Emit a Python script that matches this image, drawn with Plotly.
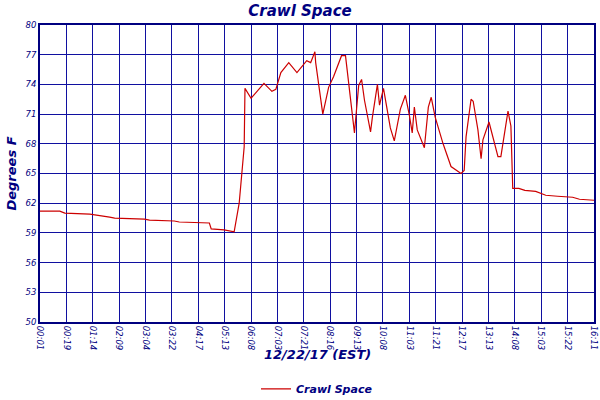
import plotly.graph_objects as go

tick_labels = ["00:01","00:19","01:14","02:09","03:04","03:22","04:17","05:13","06:08","07:03","07:21",
               "08:16","09:13","10:08","11:03","11:21","12:17","13:13","14:08","15:03","15:22","16:11"]
x_pos = [0,0.75,0.94,1.89,2.64,2.83,3.96,4.15,5.09,5.28,6.42,6.49,6.98,7.36,7.55,7.66,7.74,7.77,8.0,8.49,
         8.79,8.94,9.13,9.43,9.74,10.11,10.26,10.42,10.45,10.72,10.94,11.13,11.43,11.58,11.77,11.92,12.08,
         12.19,12.30,12.53,12.60,12.79,12.87,13.02,13.28,13.43,13.66,13.85,14.0,14.11,14.19,14.30,14.57,
         14.72,14.83,14.98,15.28,15.58,15.96,16.08,16.15,16.34,16.42,16.60,16.72,16.79,17.02,17.21,17.36,
         17.47,17.58,17.74,17.85,17.92,18.15,18.38,18.79,19.17,19.62,20.19,20.45,21]
temps = [61.2,61.2,61.0,60.9,60.6,60.5,60.4,60.3,60.2,60.1,60.0,59.4,59.3,59.1,62.0,65.0,67.7,73.6,72.6,74.1,
         73.3,73.5,75.2,76.2,75.2,76.4,76.2,77.3,76.2,71.0,73.7,74.8,76.9,76.9,72.4,69.1,73.9,
         74.5,72.4,69.2,70.7,74.0,71.9,73.6,69.6,68.3,71.5,72.9,70.9,69.1,71.7,69.4,67.6,
         71.7,72.7,70.7,68.0,65.7,65.0,65.3,68.7,72.5,72.3,69.4,66.5,68.4,70.2,68.1,66.7,
         66.7,68.4,71.3,69.8,63.5,63.5,63.3,63.2,62.8,62.7,62.6,62.4,62.3]
y_ticks = [50,53,56,59,62,65,68,71,74,77,80]

navy = "#000080"
font = dict(family="DejaVu Sans", color=navy)
tfont = dict(family="DejaVu Sans", color=navy, size=8.5)

fig = go.Figure(go.Scatter(x=x_pos, y=temps, mode="lines", name="<b><i>Crawl Space</i></b>",
                           line=dict(color="#cc0000", width=1.2)))
fig.update_layout(
    width=600, height=400, paper_bgcolor="white", plot_bgcolor="white",
    margin=dict(l=40, r=6, t=25, b=78, autoexpand=False),
    title=dict(text="<b><i>Crawl Space</i></b>", x=0.5, xanchor="center", yref="container", y=0.974,
               yanchor="middle", font=dict(size=15, **font)),
    showlegend=True,
    legend=dict(orientation="h", x=0.5, xanchor="center", y=-0.225, yanchor="middle",
                font=dict(size=11, **font)),
    annotations=[dict(text="<b><i>12/22/17 (EST)</i></b>", xref="paper", yref="paper", x=0.5, y=-0.11,
                      yanchor="middle", showarrow=False, font=dict(size=13, **font))],
    xaxis=dict(range=[0, 21.0001], tickmode="array", tickvals=list(range(22)), automargin=False,
               ticktext=[f"<i>{t}</i>" for t in tick_labels], tickangle=90,
               tickfont=tfont, showgrid=True, gridcolor="#1010a0", gridwidth=1.3,
               showline=True, linecolor=navy, linewidth=2, mirror=True, zeroline=False),
    yaxis=dict(range=[50, 80], tickmode="array", tickvals=y_ticks, automargin=False,
               ticktext=[f"<i>{v}</i>" for v in y_ticks],
               tickfont=tfont, showgrid=True, gridcolor="#1010a0", gridwidth=1.3,
               showline=True, linecolor=navy, linewidth=2, mirror=True, zeroline=False,
               title=dict(text="<b><i>Degrees F</i></b>", font=dict(size=13, **font), standoff=6)),
)
fig.write_html("out.html", config={"displayModeBar": False},
               post_script="document.body.style.margin='0';document.body.style.overflow='hidden';")
